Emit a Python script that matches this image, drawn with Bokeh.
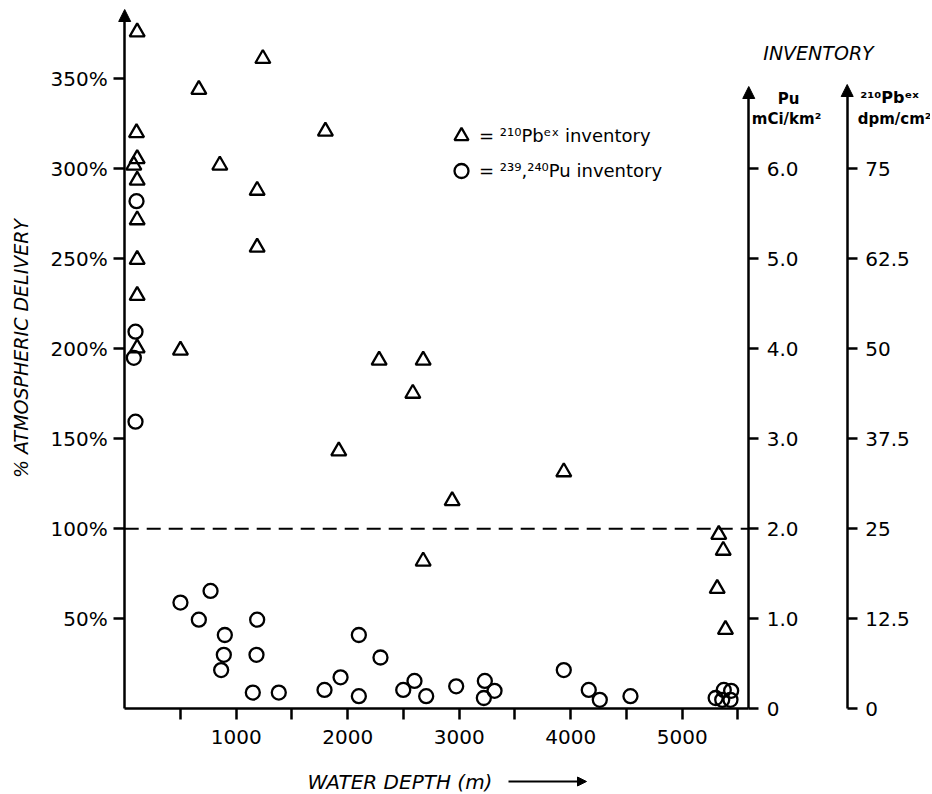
import math
from bokeh.plotting import figure
from bokeh.models import (Range1d, LinearAxis, FixedTicker, PrintfTickFormatter,
                          Label, Arrow, NormalHead, Legend, LegendItem)
from bokeh.embed import file_html
from bokeh.resources import INLINE

# ---------------- data ----------------
# 210Pb(ex) inventory (dpm/cm2) vs water depth (m)
pb_depth = [112, 1239, 665, 106, 1800, 112, 82, 853, 112, 1188, 112, 1188, 112, 112,
            112, 500, 2282, 2677, 2584, 1920, 3938, 2937, 2677, 5328, 5368, 5314, 5388]
pb_inv = [94.0, 90.3, 86.0, 80.0, 80.2, 76.4, 75.5, 75.5, 73.4, 72.0, 67.9, 64.1, 62.4, 57.4,
          50.1, 49.8, 48.4, 48.4, 43.8, 35.8, 32.9, 28.9, 20.5, 24.2, 22.0, 16.7, 11.0]

# 239,240Pu inventory (mCi/km2) vs water depth (m)
pu_depth = [106, 97, 82, 97, 500, 770, 665, 898, 889, 865, 1188, 1182, 1149, 1382,
            1792, 1936, 2100, 2100, 2294, 2498, 2599, 2704, 2973, 3230, 3317, 3221,
            3938, 4162, 4261, 4536, 5373, 5439, 5359, 5433, 5300]
pu_inv = [5.64, 4.19, 3.90, 3.19, 1.18, 1.31, 0.99, 0.82, 0.60, 0.43, 0.99, 0.60, 0.18, 0.18,
          0.21, 0.35, 0.82, 0.14, 0.57, 0.21, 0.31, 0.14, 0.25, 0.31, 0.20, 0.12,
          0.43, 0.21, 0.10, 0.14, 0.21, 0.20, 0.10, 0.10, 0.12]

x_ticks = [500, 1000, 1500, 2000, 2500, 3000, 3500, 4000, 4500, 5000, 5500]
x_tick_labels = ["", "1000", "", "2000", "", "3000", "", "4000", "", "5000", ""]
pct_ticks = [50, 100, 150, 200, 250, 300, 350]
pu_ticks = [0, 1, 2, 3, 4, 5, 6]
pu_tick_labels = ["0", "1.0", "2.0", "3.0", "4.0", "5.0", "6.0"]
pb_ticks = [0, 12.5, 25, 37.5, 50, 62.5, 75]
pb_tick_labels = ["0", "12.5", "25", "37.5", "50", "62.5", "75"]
reference_pct = 100            # 100 % atmospheric delivery
depth_axis_end = 5597          # depth where the inventory axis stands
pct_per_pu = 50.0              # 1.0 mCi/km2 = 50 %
pct_per_pb = 4.0               # 12.5 dpm/cm2 = 50 %

# ---------------- layout ----------------
W, H = 930, 792
X0_PX, PX_PER_M = 124.2, 0.1115     # screen x of depth 0, px per metre
Y0_PX, PX_PER_PCT = 708.3, 1.8      # screen y of 0 %, px per percent


def dx(px):  # screen px -> depth units (for placing texts / axes)
    return (px - X0_PX) / PX_PER_M


def dy(py):  # screen px -> percent units
    return (Y0_PX - py) / PX_PER_PCT


FONT = "DejaVu Sans"
INK = "#000000"

p = figure(width=W, height=H, x_range=Range1d(dx(0), dx(W)), y_range=Range1d(dy(H), dy(0)),
           output_backend="svg", toolbar_location=None, title=None,
           min_border=0, min_border_left=0, min_border_right=0,
           min_border_top=0, min_border_bottom=0)
p.outline_line_color = None
p.xgrid.visible = False
p.ygrid.visible = False
p.background_fill_color = "white"
p.border_fill_color = "white"
p.extra_y_ranges = {"pu": Range1d(dy(H) / pct_per_pu, dy(0) / pct_per_pu),
                    "pb": Range1d(dy(H) / pct_per_pb, dy(0) / pct_per_pb)}


def style_axis(ax, ticks, labels=None):
    ax.ticker = FixedTicker(ticks=ticks)
    if labels is not None:
        ax.major_label_overrides = {t: l for t, l in zip(ticks, labels)}
    ax.axis_line_width = 2.5
    ax.axis_line_color = INK
    ax.major_tick_line_width = 2.5
    ax.major_tick_line_color = INK
    ax.major_tick_in = 0
    ax.major_tick_out = 11
    ax.minor_tick_line_color = None
    ax.major_label_text_font = FONT
    ax.major_label_text_font_size = "20px"
    ax.major_label_text_color = INK


xa = p.xaxis[0]
style_axis(xa, x_ticks, x_tick_labels)
xa.fixed_location = 0
xa.bounds = (0, depth_axis_end)
xa.major_label_standoff = 10

ya = p.yaxis[0]
style_axis(ya, pct_ticks)
ya.fixed_location = 0
ya.bounds = (0, dy(20))
ya.formatter = PrintfTickFormatter(format="%d%%")
ya.major_label_standoff = 6

pu_axis = LinearAxis(y_range_name="pu", fixed_location=depth_axis_end,
                     bounds=(0, dy(96) / pct_per_pu))
style_axis(pu_axis, pu_ticks, pu_tick_labels)
pu_axis.major_tick_out = 10
pu_axis.major_label_standoff = 8
p.add_layout(pu_axis, "right")

pb_axis_at = dx(846.7)
pb_axis = LinearAxis(y_range_name="pb", fixed_location=pb_axis_at,
                     bounds=(0, dy(94) / pct_per_pb))
style_axis(pb_axis, pb_ticks, pb_tick_labels)
pb_axis.major_tick_out = 10
pb_axis.major_label_standoff = 8
p.add_layout(pb_axis, "right")

# 100 % atmospheric delivery line
p.line(x=[0, depth_axis_end], y=[reference_pct, reference_pct], line_color=INK,
       line_width=2, line_dash="14 8")

# data markers
tri = p.scatter(pb_depth, pb_inv, y_range_name="pb", marker="triangle", size=15,
                fill_color=None, line_color=INK, line_width=2.3)
cir = p.scatter(pu_depth, pu_inv, y_range_name="pu", marker="circle", size=14,
                fill_color=None, line_color=INK, line_width=2.3)

legend = Legend(items=[LegendItem(label="= ²¹⁰Pbᵉˣ inventory", renderers=[tri]),
                       LegendItem(label="= ²³⁹,²⁴⁰Pu inventory", renderers=[cir])],
                location=(443, H - 188), glyph_width=36, glyph_height=35, spacing=-2,
                padding=0, margin=0, label_standoff=0, border_line_color=None,
                background_fill_alpha=0, label_text_font=FONT,
                label_text_font_size="18px", label_text_color=INK)
p.add_layout(legend)

# axis arrowheads
for ax_x, tip_y in [(0, 9), (depth_axis_end, 86), (pb_axis_at, 84)]:
    p.add_layout(Arrow(end=NormalHead(size=12, fill_color=INK, line_color=INK, line_width=1),
                       x_start=ax_x, y_start=dy(tip_y + 16), x_end=ax_x, y_end=dy(tip_y),
                       line_alpha=0))

# depth-direction arrow beside the axis title
p.add_layout(Arrow(end=NormalHead(size=9, fill_color=INK, line_color=INK, line_width=1),
                   x_start=dx(508), y_start=dy(781), x_end=dx(586), y_end=dy(781),
                   line_color=INK, line_width=2))


def text(x, y, s, size, style="normal", align="center", angle=0.0):
    p.add_layout(Label(x=dx(x), y=dy(y), text=s, text_font=FONT, text_font_size=size,
                       text_font_style=style, text_align=align, text_baseline="middle",
                       text_color=INK, angle=angle))


text(20, 348, "% ATMOSPHERIC DELIVERY", "19px", "italic", angle=math.pi / 2)
text(818, 52, "INVENTORY", "19px", "italic")
text(788, 98, "Pu", "15px", "bold")
text(786, 118, "mCi/km²", "15px", "bold")
text(889, 97, "²¹⁰Pbᵉˣ", "16px", "bold")
text(894, 118, "dpm/cm²", "15px", "bold")
text(307, 781, "WATER DEPTH (m)", "20px", "italic", "left")

open("out.html", "w").write(file_html(p, INLINE))
